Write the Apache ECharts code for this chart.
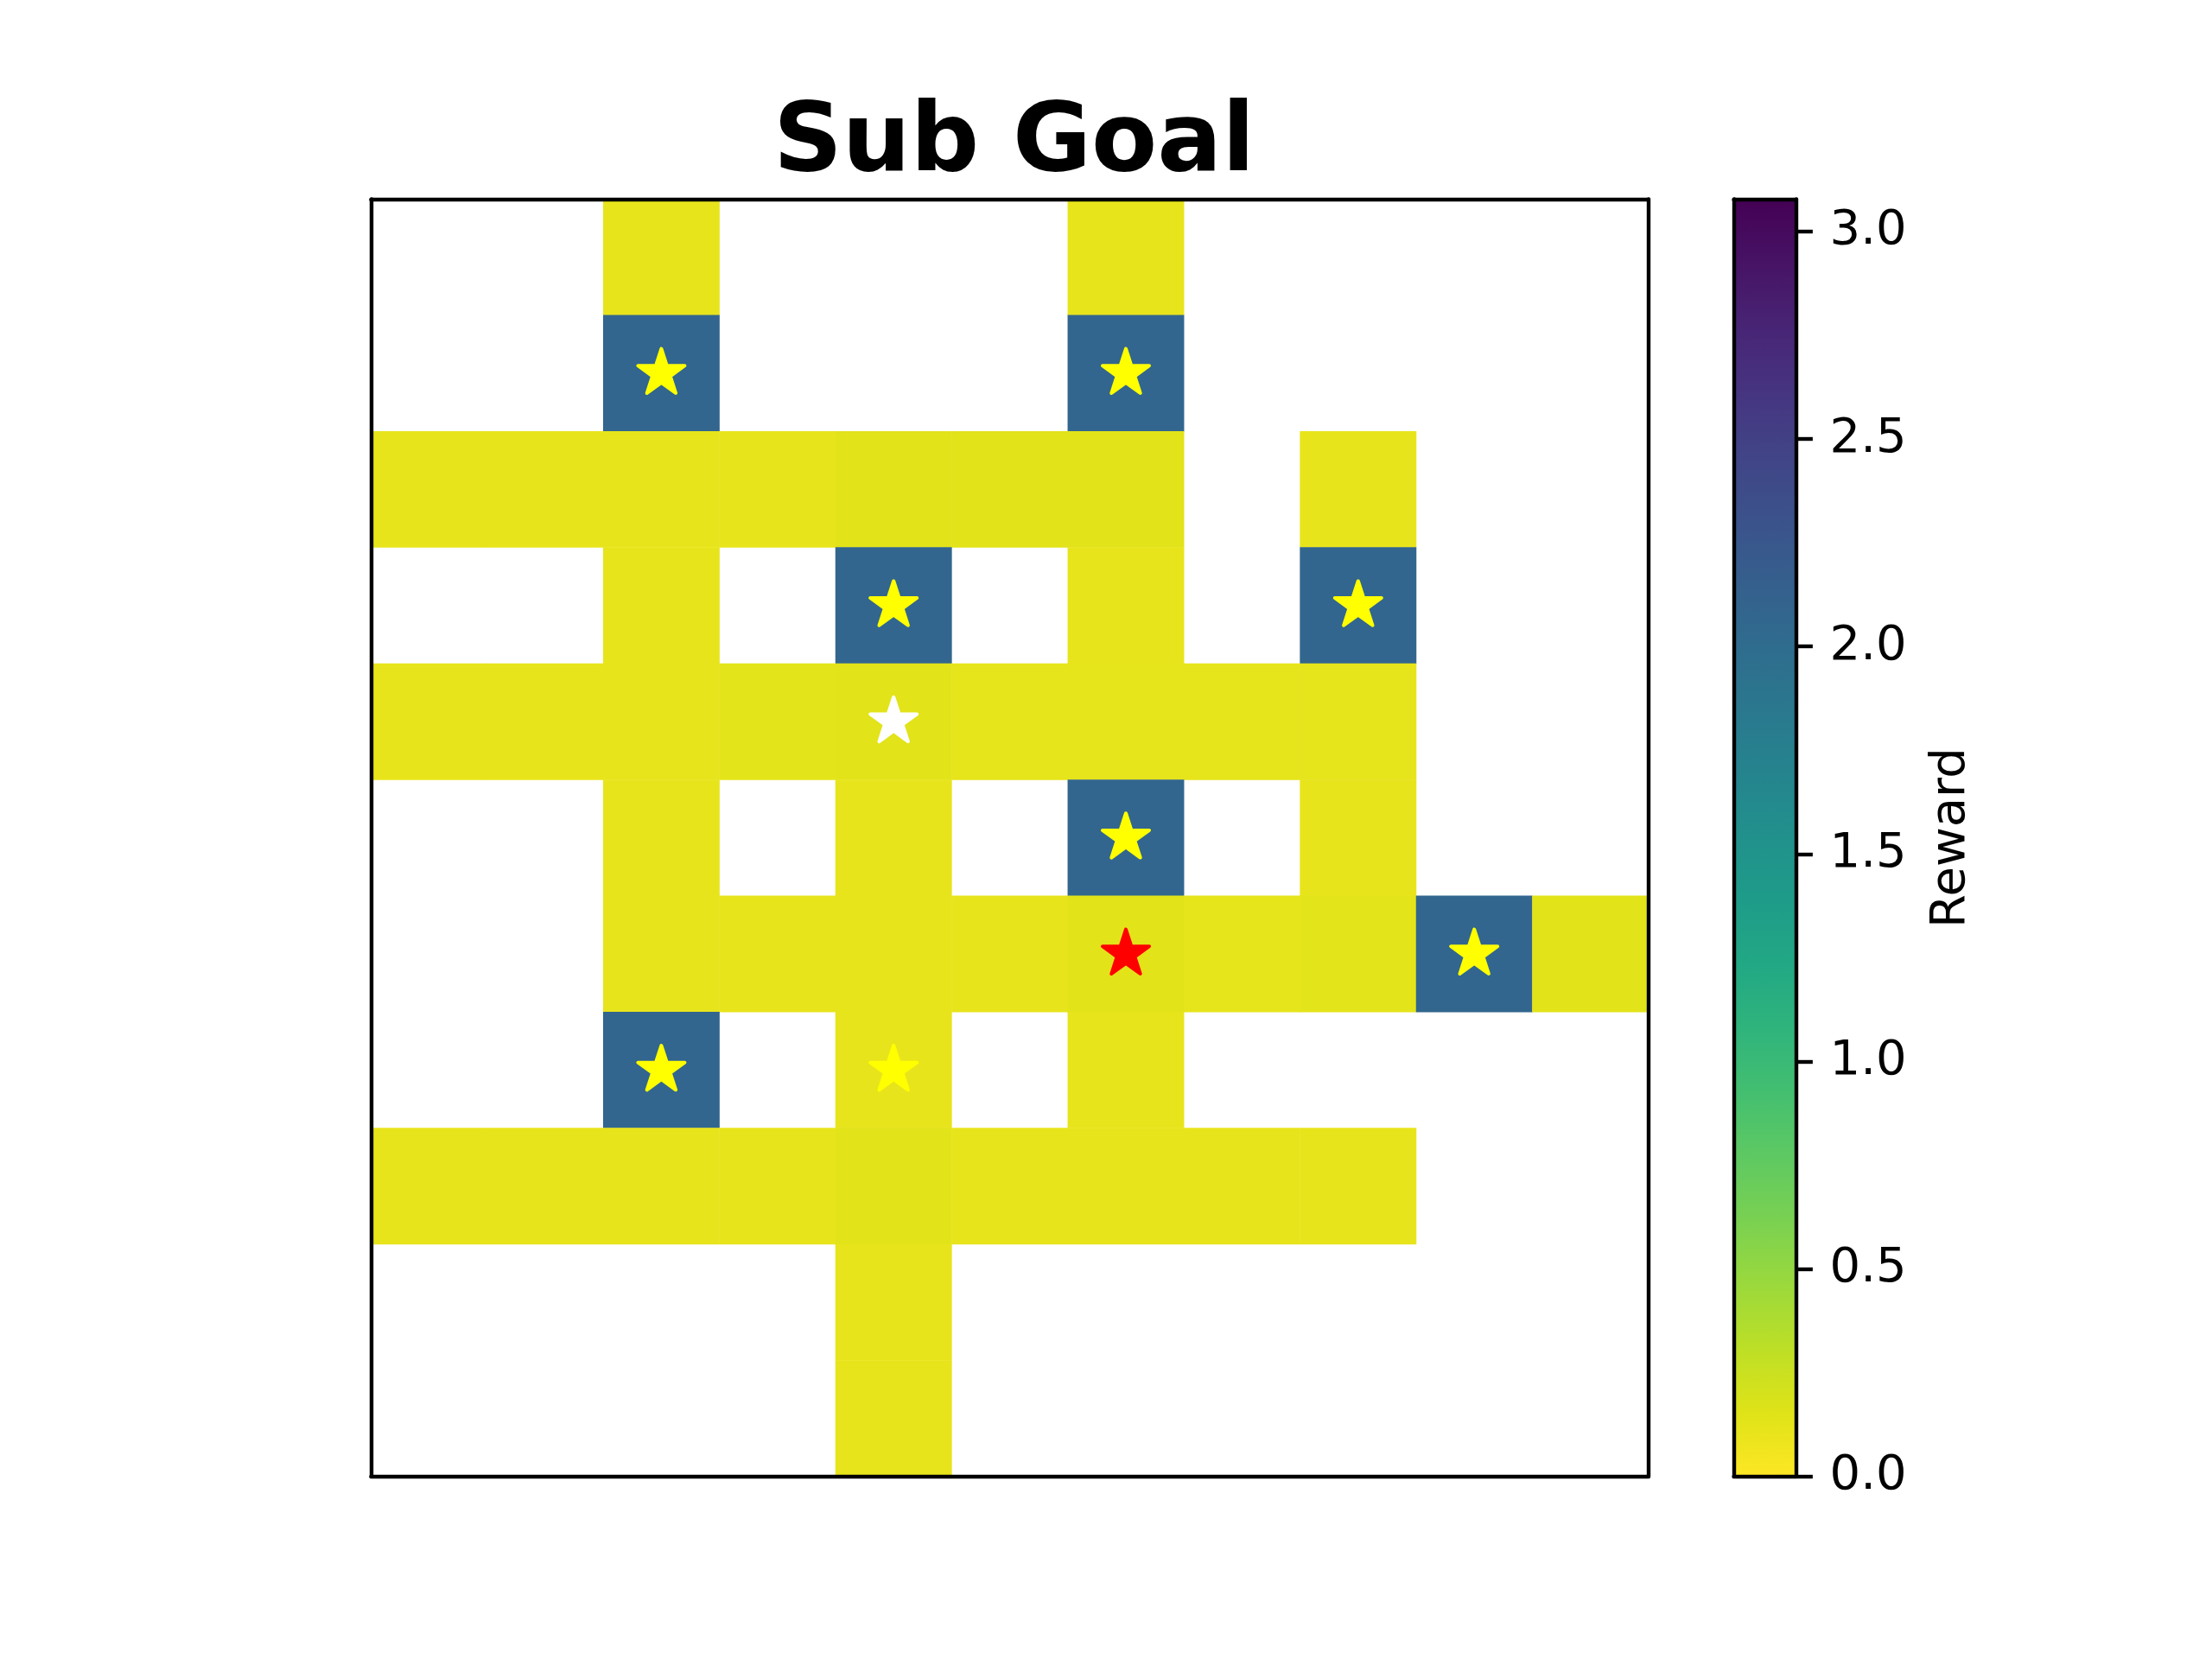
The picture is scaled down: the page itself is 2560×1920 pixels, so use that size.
<!DOCTYPE html>
<html>
<head>
<meta charset="utf-8">
<script src="https://cdn.jsdelivr.net/npm/echarts@6/dist/echarts.min.js"></script>
<style>html,body{margin:0;padding:0;background:#fff;}#c{width:2560px;height:1920px;}</style>
</head>
<body>
<div id="c"></div>
<script>
// ---- data ----
const cols = ['0','1','2','3','4','5','6','7','8','9','10'];
const rows = ['0','1','2','3','4','5','6','7','8','9','10'];
// reward per cell, row by row (top to bottom); null = empty (white)
const row0  = [null,null,0.11,null,null,null,0.11,null,null,null,null];
const row1  = [null,null,2.07,null,null,null,2.07,null,null,null,null];
const row2  = [0.11,0.11,0.11,0.11,0.14,0.14,0.14,null,0.11,null,null];
const row3  = [null,null,0.11,null,2.07,null,0.11,null,2.07,null,null];
const row4  = [0.11,0.11,0.11,0.13,0.14,0.12,0.12,0.12,0.12,null,null];
const row5  = [null,null,0.11,null,0.11,null,2.07,null,0.11,null,null];
const row6  = [null,null,0.11,0.11,0.11,0.11,0.14,0.12,0.13,2.07,0.14];
const row7  = [null,null,2.07,null,0.11,null,0.11,null,null,null,null];
const row8  = [0.11,0.11,0.11,0.11,0.14,0.11,0.11,0.11,0.11,null,null];
const row9  = [null,null,null,null,0.11,null,null,null,null,null,null];
const row10 = [null,null,null,null,0.11,null,null,null,null,null,null];
const rewardRows = [row0,row1,row2,row3,row4,row5,row6,row7,row8,row9,row10];
// star markers: [col, row]
const yellowStars = [[2,1],[6,1],[4,3],[8,3],[6,5],[9,6],[2,7],[4,7]];
const whiteStars = [[4,4]];
const redStars = [[6,6]];
// colorbar
const cbMin = 0, cbMax = 3.078;
const cbTicks = [0,0.5,1.0,1.5,2.0,2.5,3.0];
const cbLabel = 'Reward';
const titleText = 'Sub Goal';

// viridis, 0 -> 1
const viridis = ['#440154','#471365','#482475','#463480','#414487','#3b528b','#355f8d','#2f6c8e','#2a788e','#25848e','#21918c','#1e9c89','#22a884','#2fb47c','#44bf70','#5ec962','#7ad151','#9bd93c','#bddf26','#dfe318','#fde725'];

const heatData = [];
rewardRows.forEach((r, ri) => r.forEach((v, ci) => { if (v !== null) heatData.push([ci, ri, v]); }));

// star path (matplotlib '*': inner radius 0.381966)
function starPath() {
  const pts = [];
  for (let i = 0; i < 10; i++) {
    const r = i % 2 === 0 ? 1 : 0.381966;
    const a = -Math.PI / 2 + i * Math.PI / 5;
    pts.push((r * Math.cos(a)).toFixed(4) + ',' + (r * Math.sin(a)).toFixed(4));
  }
  return 'path://M' + pts.join('L') + 'Z';
}
const STAR = starPath();

const F = 'DejaVu Sans';
const LW = 4.4;
const gL = 429.4, gT = 230.4, gS = 1478.4;
const cbL = 2006.5, cbW = 72;

const frameAxis = (extra) => Object.assign({
  axisLine: {show: true, onZero: false, lineStyle: {color: '#000', width: LW}},
  axisTick: {show: false}, axisLabel: {show: false}, splitLine: {show: false}, z: 10
}, extra);

function starSeries(data, color) {
  return {
    type: 'scatter', xAxisIndex: 0, yAxisIndex: 0, data: data,
    symbol: STAR, symbolSize: [54, 51.4], symbolOffset: [0, -2.7],
    itemStyle: {color: color, borderColor: color, borderWidth: 4, borderJoin: 'round', opacity: 1},
    z: 5, silent: true
  };
}

const chart = echarts.init(document.getElementById('c'), null, {renderer: 'canvas'});
chart.setOption({
  backgroundColor: '#fff',
  animation: false,
  title: {
    text: titleText, left: gL + gS / 2, top: 108, textAlign: 'center',
    textStyle: {fontFamily: F, fontWeight: 'bold', fontSize: 111, color: '#000'}
  },
  grid: [
    {left: gL, top: gT, width: gS, height: gS, containLabel: false},
    {left: cbL, top: gT, width: cbW, height: gS, containLabel: false}
  ],
  visualMap: {
    type: 'continuous', show: false, min: cbMin, max: cbMax, seriesIndex: 0, dimension: 2,
    inRange: {color: viridis.slice().reverse()}
  },
  xAxis: [
    frameAxis({type: 'category', data: cols, gridIndex: 0, position: 'bottom'}),
    frameAxis({type: 'category', data: cols, gridIndex: 0, position: 'top'}),
    frameAxis({type: 'category', data: ['cb'], gridIndex: 1, position: 'bottom'}),
    frameAxis({type: 'category', data: ['cb'], gridIndex: 1, position: 'top'})
  ],
  yAxis: [
    frameAxis({type: 'category', data: rows, gridIndex: 0, inverse: true, position: 'left'}),
    frameAxis({type: 'category', data: rows, gridIndex: 0, inverse: true, position: 'right'}),
    frameAxis({type: 'value', gridIndex: 1, min: cbMin, max: cbMax, position: 'left'}),
    {
      type: 'value', gridIndex: 1, min: cbMin, max: cbMax, position: 'right', z: 10,
      axisLine: {show: true, onZero: false, lineStyle: {color: '#000', width: LW}},
      axisTick: {show: true, inside: false, length: 19.4, lineStyle: {color: '#000', width: LW}, customValues: cbTicks},
      axisLabel: {show: true, margin: 39, fontFamily: F, fontSize: 56, color: '#000', customValues: cbTicks,
                  padding: [10, 0, 0, 0], formatter: v => Number(v).toFixed(1)},
      splitLine: {show: false},
      name: cbLabel, nameLocation: 'middle', nameRotate: 90, nameGap: 152,
      nameTextStyle: {fontFamily: F, fontSize: 56, color: '#000'}
    }
  ],
  series: [
    {
      type: 'heatmap', xAxisIndex: 0, yAxisIndex: 0, data: heatData,
      itemStyle: {borderWidth: 0}, emphasis: {disabled: true}, progressive: 0
    },
    starSeries(yellowStars, '#ffff00'),
    starSeries(whiteStars, '#ffffff'),
    starSeries(redStars, '#ff0000'),
    {
      type: 'bar', xAxisIndex: 2, yAxisIndex: 2, data: [cbMax], barWidth: '100%', silent: true,
      itemStyle: {color: new echarts.graphic.LinearGradient(0, 0, 0, 1,
        viridis.map((c, i) => ({offset: i / (viridis.length - 1), color: c})))}
    }
  ]
});
</script>
</body>
</html>
